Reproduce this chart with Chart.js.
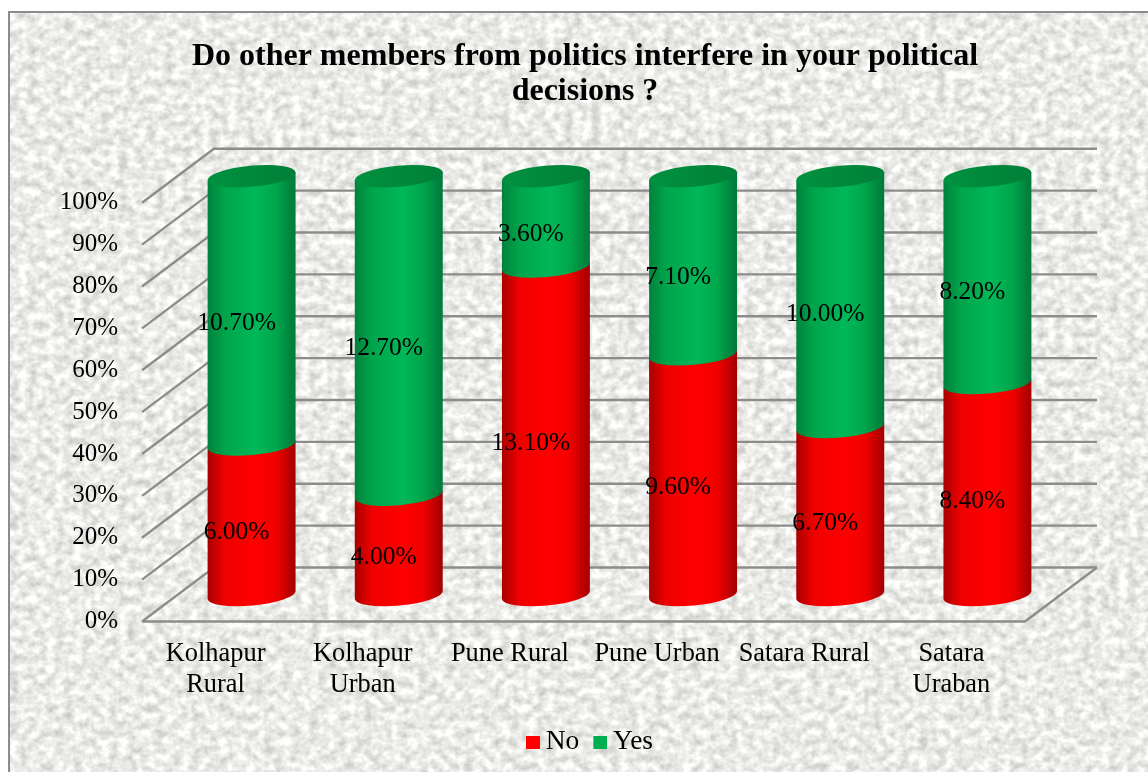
<!DOCTYPE html>
<html>
<head>
<meta charset="utf-8">
<script src="https://cdn.jsdelivr.net/npm/chart.js@4"></script>
<style>
  html, body { margin: 0; padding: 0; background: #fff; overflow: hidden; }
  #stage { position: relative; width: 1148px; height: 772px; }
  #paper {
    position: absolute; left: 8px; top: 11px; right: -4px; bottom: -4px;
    border: 2px solid #8c8c8c; overflow: hidden; background: #e8e8e6;
  }
  #paper svg { position: absolute; left: 0; top: 0; }
  canvas { position: absolute; left: 0; top: 0; }
</style>
</head>
<body>
<div id="stage">
  <div id="paper">
    <!-- mottled paper texture behind the plot -->
    <svg width="1160" height="780">
      <filter id="mottle" x="0" y="0" width="100%" height="100%" color-interpolation-filters="sRGB">
        <feTurbulence type="fractalNoise" baseFrequency="0.11 0.12" numOctaves="3" seed="11"/>
        <feColorMatrix type="matrix" values="0.36 0 0 0 0.74  0.36 0 0 0 0.74  0.36 0 0 0 0.73  0 0 0 0 1"/>
      </filter>
      <rect width="1160" height="780" filter="url(#mottle)"/>
    </svg>
  </div>
  <canvas id="chart" width="1148" height="772"></canvas>
</div>
<script>
const chartTitle = ['Do other members from politics interfere in your political', 'decisions ?'];
const categories = [['Kolhapur', 'Rural'], ['Kolhapur', 'Urban'], 'Pune Rural', 'Pune Urban', 'Satara Rural', ['Satara', 'Uraban']];
const noValues = [6.0, 4.0, 13.1, 9.6, 6.7, 8.4];
const yesValues = [10.7, 12.7, 3.6, 7.1, 10.0, 8.2];
const seriesColors = { No: '#ff0000', Yes: '#00b050' };

// Each column fills the full 0-100% height, so the bars carry shares of the row total.
const shareOf = (part, other) => part.map((v, i) => v / (v + other[i]) * 100);

const DEPTH = { x: 72, y: -54 };        // back wall offset from the axis plane
const BAR_SHIFT = { x: 36, y: -26.5 };  // cylinders stand halfway into the floor
const LABEL_SHIFT = { x: 21, y: -14 };
const GRID = '#8c8c8c';

const wallAndFloor = {
  id: 'wallAndFloor',
  beforeDatasetsDraw(chart) {
    const { ctx, scales: { x, y } } = chart;
    const l = x.left, r = x.right;
    ctx.save();
    ctx.strokeStyle = GRID;
    ctx.lineWidth = 2.3;
    y.ticks.forEach(t => {
      const py = y.getPixelForValue(t.value);
      ctx.beginPath();
      ctx.moveTo(l, py);
      ctx.lineTo(l + DEPTH.x, py + DEPTH.y);
      ctx.lineTo(r + DEPTH.x, py + DEPTH.y);
      ctx.stroke();
    });
    const y0 = y.getPixelForValue(0);
    ctx.beginPath();
    ctx.moveTo(l, y0);
    ctx.lineTo(r, y0);
    ctx.lineTo(r + DEPTH.x, y0 + DEPTH.y);
    ctx.stroke();
    ctx.restore();
  }
};

function sideGradient(ctx, x0, x1, edgeL, mid, edgeR) {
  const g = ctx.createLinearGradient(x0, 0, x1, 0);
  g.addColorStop(0, edgeL);
  g.addColorStop(0.2, mid[0]);
  g.addColorStop(0.55, mid[1]);
  g.addColorStop(0.78, mid[0]);
  g.addColorStop(1, edgeR);
  return g;
}

const RY = 10.5, TILT = -0.09;

function cylinderPiece(ctx, cx, rx, topY, botY, fill) {
  const sx = Math.cos(TILT) * rx, sy = Math.sin(TILT) * rx;
  ctx.beginPath();
  ctx.moveTo(cx - sx, topY - sy);
  ctx.lineTo(cx + sx, topY + sy);
  ctx.lineTo(cx + sx, botY + sy);
  ctx.ellipse(cx, botY, rx, RY, TILT, 0, Math.PI);
  ctx.closePath();
  ctx.fillStyle = fill;
  ctx.fill();
}

const cylinders = {
  id: 'cylinders',
  afterDatasetsDraw(chart) {
    const { ctx } = chart;
    const metaNo = chart.getDatasetMeta(0), metaYes = chart.getDatasetMeta(1);
    ctx.save();
    metaNo.data.forEach((bar, i) => {
      const top = metaYes.data[i];
      const cx = bar.x + BAR_SHIFT.x;
      const rx = bar.width / 2;
      const x0 = cx - rx, x1 = cx + rx;
      const red = sideGradient(ctx, x0, x1, '#a80000', ['#f00000', '#ff0000'], '#a00000');
      const green = sideGradient(ctx, x0, x1, '#00813c', ['#00a54b', '#00b858'], '#00773a');
      cylinderPiece(ctx, cx, rx, bar.y + BAR_SHIFT.y, bar.base + BAR_SHIFT.y, red);
      cylinderPiece(ctx, cx, rx, top.y + BAR_SHIFT.y, top.base + BAR_SHIFT.y, green);
      // cap of the column
      const capY = top.y + BAR_SHIFT.y;
      const cap = ctx.createLinearGradient(x0, 0, x1, 0);
      cap.addColorStop(0, '#00923f');
      cap.addColorStop(1, '#007f38');
      ctx.beginPath();
      ctx.ellipse(cx, capY, rx, RY, TILT, 0, Math.PI * 2);
      ctx.fillStyle = cap;
      ctx.fill();
    });
    ctx.restore();
  }
};

const valueLabels = {
  id: 'valueLabels',
  afterDraw(chart) {
    const { ctx } = chart;
    const raw = [noValues, yesValues];
    ctx.save();
    ctx.font = '25.5px "Liberation Serif"';
    ctx.fillStyle = '#000';
    ctx.textAlign = 'center';
    ctx.textBaseline = 'middle';
    raw.forEach((vals, d) => {
      chart.getDatasetMeta(d).data.forEach((bar, i) => {
        const mid = (bar.y + bar.base) / 2;
        ctx.fillText(vals[i].toFixed(2) + '%', bar.x + LABEL_SHIFT.x, mid + LABEL_SHIFT.y);
      });
    });
    ctx.restore();
  }
};

// The legend sits a little right of the title's centre line.
const legendNudge = {
  id: 'legendNudge',
  afterLayout(chart) {
    chart.legend.left += 6.5;
    chart.legend.right += 6.5;
  }
};

// Legend swatch: a 14x13 square placed close to its text.
function swatch(color) {
  const c = document.createElement('canvas');
  c.width = 18;
  c.height = 13;
  const g = c.getContext('2d');
  g.fillStyle = color;
  g.fillRect(4, 0, 14, 13);
  return c;
}

new Chart(document.getElementById('chart'), {
  type: 'bar',
  data: {
    labels: categories,
    datasets: [
      { label: 'No', data: shareOf(noValues, yesValues), backgroundColor: 'transparent', borderWidth: 0 },
      { label: 'Yes', data: shareOf(yesValues, noValues), backgroundColor: 'transparent', borderWidth: 0 }
    ]
  },
  plugins: [wallAndFloor, cylinders, valueLabels, legendNudge],
  options: {
    responsive: false,
    animation: false,
    events: [],
    layout: { padding: { left: 22, right: 0, top: 39, bottom: 6 } },
    datasets: { bar: { barPercentage: 1, categoryPercentage: 0.6 } },
    scales: {
      x: {
        stacked: true,
        afterFit(scale) { scale.height = 89; },
        grid: { display: false },
        border: { display: false },
        ticks: {
          color: '#000', maxRotation: 0, autoSkip: false, padding: 10,
          font: { family: '"Liberation Serif"', size: 26.4, lineHeight: 1.14 }
        }
      },
      y: {
        stacked: true,
        min: 0, max: 100,
        afterFit(scale) { scale.width = 120; },
        grid: { display: false },
        border: { display: false },
        ticks: {
          stepSize: 10,
          color: '#000', padding: 16,
          font: { family: '"Liberation Serif"', size: 25 },
          callback: v => v + '%'
        }
      },
      // keeps the room the back wall needs on the right of the plot
      wallRoom: {
        type: 'linear',
        position: 'right',
        afterFit(scale) { scale.width = 123; },
        grid: { display: false },
        border: { display: false },
        ticks: { display: false }
      }
    },
    plugins: {
      title: {
        display: true, text: chartTitle, color: '#000',
        font: { family: '"Liberation Serif"', size: 32, weight: 'bold', lineHeight: 1.09 },
        padding: { top: 0, bottom: 94 }
      },
      tooltip: { enabled: false },
      legend: {
        position: 'bottom',
        labels: {
          color: '#000', usePointStyle: true, pointStyleWidth: 2, padding: 18,
          font: { family: '"Liberation Serif"', size: 27.5 },
          generateLabels(chart) {
            return chart.data.datasets.map((ds, i) => ({
              text: ds.label, pointStyle: swatch(seriesColors[ds.label]),
              fillStyle: seriesColors[ds.label], strokeStyle: 'transparent', lineWidth: 0,
              datasetIndex: i, fontColor: '#000'
            }));
          }
        }
      }
    }
  }
});
</script>
</body>
</html>
